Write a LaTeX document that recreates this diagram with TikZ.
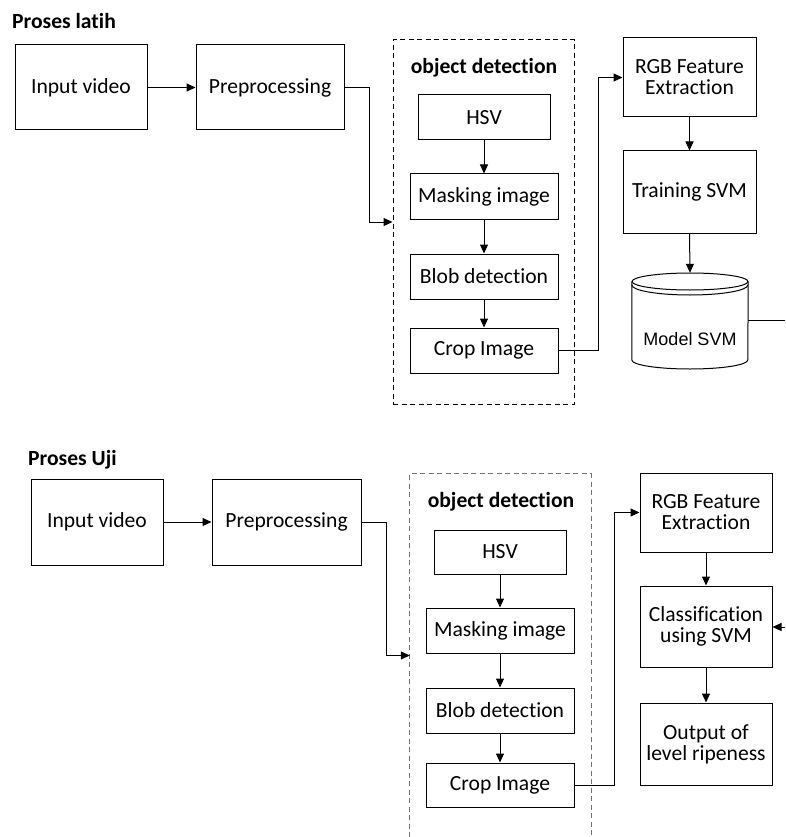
\documentclass[tikz,border=0pt]{standalone}
\usepackage{fontspec}
\setmainfont{Carlito}[Ligatures={NoCommon,NoRare,NoContextual},Contextuals=NoAlternate]
\newfontfamily\arialfont{Liberation Sans}
\newcommand\tii{t\kern0pt i}
\usetikzlibrary{arrows.meta,calc}
\begin{document}
\begin{tikzpicture}[x=1pt,y=-1pt,
  box/.style={draw=black,line width=1pt,rectangle,inner sep=0pt,align=center,
    font=\fontsize{21.6}{24}\selectfont},
  arr/.style={line width=1pt,-{Triangle[length=9pt,width=8pt]}},
  ln/.style={line width=1pt},
  title/.style={font=\fontsize{21.6}{24}\selectfont\bfseries,inner sep=0pt},
  dbox/.style={line width=1pt,dash pattern=on 5pt off 3.5pt}]
\useasboundingbox (0,0) rectangle (785,837);

% ---------- Proses latih ----------
\node[title,anchor=base west] (t1) at (12,29) {Proses latih};
\node[box,minimum width=132,minimum height=85] (inv1) at (81,87.5) {Input video};
\node[box,minimum width=148,minimum height=85] (pre1) at (270,87.5) {Preprocessing};
\node[draw=black,dbox,minimum width=181,minimum height=364,inner sep=0pt] (od1) at (483.5,222) {};
\node[title] (odt1) at (484,68) {object detec\tii on};
\node[box,minimum width=132,minimum height=45] (hsv1) at (484,117.5) {HSV};
\node[box,minimum width=148,minimum height=45] (mask1) at (484,196.5) {Masking image};
\node[box,minimum width=148,minimum height=45] (blob1) at (484,276.5) {Blob detec\tii on};
\node[box,minimum width=148,minimum height=45] (crop1) at (484,350.5) {Crop Image};
\node[box,minimum width=133,minimum height=79,font=\fontsize{21.6}{21}\selectfont] (rgb1) at (689.5,77.5) {RGB Feature\\Extrac\tii on};
\node[box,minimum width=133,minimum height=82] (train1) at (689.5,192) {Training SVM};
\node[minimum width=116,minimum height=96,inner sep=0pt] (msvm) at (690,321) {};
\node[font=\arialfont\fontsize{18}{20}\selectfont,inner sep=0pt] (msvmt) at (690,339) {Model SVM};
% cylinder
\draw[ln] (msvm.west |- 0,281.5) -- (msvm.west |- 0,360)
  arc[start angle=180,end angle=0,x radius=58,y radius=9]
  -- (msvm.east |- 0,281.5);
\draw[ln] (690,281.5) ellipse[x radius=58,y radius=8.5];
\draw[ln] (msvm.west |- 0,285) arc[start angle=180,end angle=0,x radius=58,y radius=10];
\coordinate (e1) at (785,320);

\draw[arr] (inv1) -- (pre1);
\draw[arr] (pre1.east) -- ++(25,0) |- (od1.west);
\draw[arr] (hsv1) -- (mask1);
\draw[arr] (mask1) -- (blob1);
\draw[arr] (blob1) -- (crop1);
\draw[arr] (crop1.east) -- ++(40,0) |- (rgb1.west);
\draw[arr] (rgb1) -- (train1);
\draw[arr] (train1.south) -- (msvm.north);
\draw[ln] (msvm.east |- e1) -- (e1);

% ---------- Proses Uji ----------
\node[title,anchor=base west] (t2) at (28,465) {Proses Uji};
\node[box,minimum width=132,minimum height=86] (inv2) at (97,522) {Input video};
\node[box,minimum width=149,minimum height=86] (pre2) at (286.5,522) {Preprocessing};
\node[minimum width=181,minimum height=363,inner sep=0pt] (od2) at (500.5,655.5) {};
\draw[dbox,draw=black!55] (od2.south west) -- (od2.north west) -- (od2.north east) -- (od2.south east);
\node[title] (odt2) at (501,502) {object detec\tii on};
\node[box,minimum width=132,minimum height=44] (hsv2) at (500,552) {HSV};
\node[box,minimum width=148,minimum height=45] (mask2) at (500,630.5) {Masking image};
\node[box,minimum width=148,minimum height=45] (blob2) at (500,710.5) {Blob detec\tii on};
\node[box,minimum width=148,minimum height=44] (crop2) at (500,785) {Crop Image};
\node[box,minimum width=132,minimum height=79,font=\fontsize{21.6}{21}\selectfont] (rgb2) at (706,512.5) {RGB Feature\\Extrac\tii on};
\node[box,minimum width=132,minimum height=81,font=\fontsize{21.6}{21}\selectfont] (cls2) at (706,626.5) {Classifica\tii on\\using SVM};
\node[box,minimum width=132,minimum height=82,font=\fontsize{21.6}{21}\selectfont] (out2) at (706,744) {Output of\\level ripeness};
\coordinate (e2) at (785,627);

\draw[arr] (inv2) -- (pre2);
\draw[arr] (pre2.east) -- ++(25,0) |- (od2.west);
\draw[arr] (hsv2) -- (mask2);
\draw[arr] (mask2) -- (blob2);
\draw[arr] (blob2) -- (crop2);
\draw[arr] (crop2.east) -- ++(40,0) |- (rgb2.west);
\draw[arr] (rgb2) -- (cls2);
\draw[arr] (cls2) -- (out2);
\draw[arr] (e2) -- (cls2.east |- e2);
\end{tikzpicture}
\end{document}
